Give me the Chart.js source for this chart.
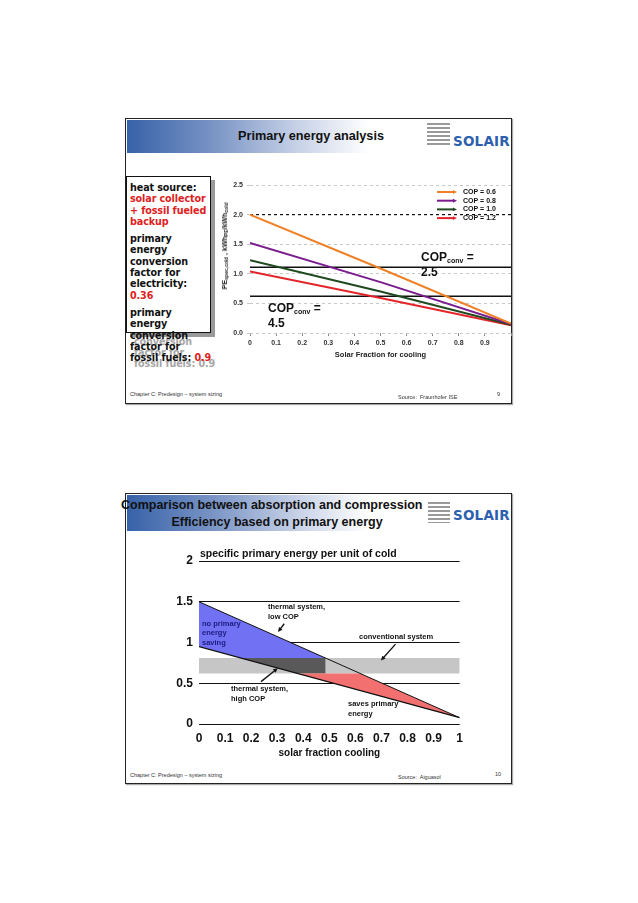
<!DOCTYPE html>
<html lang="en">
<head>
<meta charset="UTF-8">
<title>Primary energy analysis</title>
<script src="https://cdn.jsdelivr.net/npm/chart.js"></script>
<style>
  body { margin: 0; background: #fff; font-family: 'Liberation Sans', Arial, sans-serif; }
  .page { position: relative; width: 638px; height: 903px; overflow: hidden; background: #fff; }
  .abs { position: absolute; white-space: nowrap; }
  .c { transform: translate(-50%, -50%); }
  .l { transform: translateY(-50%); }
  .slide { position: absolute; box-sizing: border-box; border: 1.5px solid #222; box-shadow: 1px 1px 1px #aaa; background: #fff; }
  .head { position: absolute; background: linear-gradient(to right, #3762a9 0%, #7893c4 22%, #c9d3e8 45%, #ffffff 63%); }
  .htitle { font-weight: bold; font-size: 12.7px; color: #111; }
  .stripes { position: absolute; background: repeating-linear-gradient(to bottom, #9a9a9a 0 2px, transparent 2px 4px); }
  .solair { font-family: 'DejaVu Sans', Verdana, sans-serif; font-weight: bold; font-size: 13.5px; color: #2d5fae; letter-spacing: 0.2px; }
  .foot { font-size: 5.5px; color: #333; }
  .heatbox { position: absolute; left: 126px; top: 176px; width: 85px; height: 157px; box-sizing: border-box; border: 1.5px solid #111; background: #fff; box-shadow: 4px 4px 0 #9a9a9a; }
  .heattext { position: absolute; left: 130px; top: 182px; width: 90px; font-family: 'DejaVu Sans', Verdana, sans-serif; font-weight: bold; font-size: 9.6px; line-height: 11.3px; color: #111; letter-spacing: -0.1px; }
  .heattext p { margin: 6px 0 0 0; }
  .heattext p:first-child { margin-top: 0; }
  .red { color: #e0201c; }
  .ghost { left: 134px; top: 188px; color: #a5a5a5; }
  .ghost .red { color: #a5a5a5; }
  .conv { font-weight: bold; font-size: 12px; line-height: 11.5px; color: #111; }
  .conv sub { font-size: 7px; vertical-align: -2px; }
  .ytitle { font-weight: bold; font-size: 7px; color: #222; transform: translate(-50%, -50%) rotate(-90deg); }
  .ytitle sub { font-size: 5px; vertical-align: -1px; }
  .note { font-weight: bold; font-size: 7.5px; line-height: 10px; color: #111; }
  .navy { color: #1c1c80; line-height: 9.4px; }
</style>
</head>
<body>
<div class="page">

  <!-- slide 9 -->
  <div class="slide" style="left:125px; top:118px; width:387px; height:286px;"></div>
  <div class="head" style="left:126.5px; top:119.5px; width:384px; height:33px;"></div>
  <div class="abs c htitle" style="left:311px; top:136px;">Primary energy analysis</div>
  <div class="stripes" style="left:427px; top:123px; width:23px; height:23px;"></div>
  <div class="abs l solair" style="left:453px; top:141px;">SOLAIR</div>

  <div class="abs heattext ghost">
    <p>heat source:<br><span class="red">solar collector<br>+ fossil fueled<br>backup</span></p>
    <p>primary<br>energy<br>conversion<br>factor for<br>electricity:<br><span class="red">0.36</span></p>
    <p>primary<br>energy<br>conversion<br>factor for<br>fossil fuels: <span class="red">0.9</span></p>
  </div>
  <div class="heatbox"></div>
  <div class="abs heattext">
    <p>heat source:<br><span class="red">solar collector<br>+ fossil fueled<br>backup</span></p>
    <p>primary<br>energy<br>conversion<br>factor for<br>electricity:<br><span class="red">0.36</span></p>
    <p>primary<br>energy<br>conversion<br>factor for<br>fossil fuels: <span class="red">0.9</span></p>
  </div>

  <div class="abs" style="left:210px; top:176px; width:305px; height:190px;">
    <canvas id="copChart" width="305" height="190"></canvas>
  </div>
  <div class="abs ytitle" style="left:225px; top:246px;">PE<sub>spec,cold</sub> , kWh<sub>PE</sub>/kWh<sub>cold</sub></div>
  <div class="abs conv" style="left:421px; top:252px;">COP<sub>conv</sub> =<br>2.5</div>
  <div class="abs conv" style="left:268px; top:303px;">COP<sub>conv</sub> =<br>4.5</div>

  <div class="abs l foot" style="left:130px; top:394px;">Chapter C: Predesign – system sizing</div>
  <div class="abs l foot" style="left:398px; top:397px;">Source:&nbsp; Fraunhofer ISE</div>
  <div class="abs l foot" style="left:497px; top:394px;">9</div>

  <!-- slide 10 -->
  <div class="slide" style="left:125px; top:493px; width:387px; height:291px;"></div>
  <div class="head" style="left:126.5px; top:494.5px; width:384px; height:36px;"></div>
  <div class="abs l htitle" style="left:121px; top:505px; font-size:12.5px;">Comparison between absorption and compression</div>
  <div class="abs c htitle" style="left:277px; top:522px; font-size:12.5px;">Efficiency based on primary energy</div>
  <div class="stripes" style="left:428px; top:502px; width:22px; height:21px;"></div>
  <div class="abs l solair" style="left:453px; top:515px;">SOLAIR</div>

  <div class="abs" style="left:155px; top:545px; width:315px; height:222px;">
    <canvas id="pecChart" width="315" height="222"></canvas>
  </div>
  <div class="abs l" style="left:200px; top:553px; font-weight:bold; font-size:10.5px; color:#111;">specific primary energy per unit of cold</div>
  <div class="abs note" style="left:268px; top:602px;">thermal system,<br>low COP</div>
  <div class="abs note navy" style="left:202px; top:619px;">no primary<br>energy<br>saving</div>
  <div class="abs l note" style="left:359px; top:637px;">conventional system</div>
  <div class="abs note" style="left:231px; top:684px;">thermal system,<br>high COP</div>
  <div class="abs note" style="left:348px; top:699px;">saves primary<br>energy</div>

  <div class="abs l foot" style="left:130px; top:775px;">Chapter C: Predesign – system sizing</div>
  <div class="abs l foot" style="left:398px; top:777px;">Source:&nbsp; Aiguasol</div>
  <div class="abs l foot" style="left:495px; top:774px;">10</div>
</div>

<script>
// ---- slide 9: primary energy vs solar fraction ----
const solarFraction = [0, 0.5, 1];
const copLabels = ['COP = 0.6', 'COP = 0.8', 'COP = 1.0', 'COP = 1.2'];
const pe06 = [2.00, 1.09, 0.16];
const pe08 = [1.52, 0.86, 0.15];
const pe10 = [1.23, 0.70, 0.14];
const pe12 = [1.04, 0.59, 0.13];
const convLevels = [1.11, 0.62];   // COPconv = 2.5 and 4.5
const refLevel = 2.0;              // dashed reference line

// ---- slide 10: comparison absorption / compression ----
const sfEnds = [0, 1];
const lowCop = [1.5, 0.077];       // thermal system, low COP
const highCop = [0.95, 0.077];     // thermal system, high COP
const convBand = [0.62, 0.81];     // conventional system range

Chart.defaults.font.family = "'Liberation Sans', Arial, sans-serif";

const pts = (xs, ys) => xs.map((x, i) => ({ x: x, y: ys[i] }));
const flat = (v) => [{ x: 0, y: v }, { x: 1, y: v }];

function drawArrow(ctx, x1, y1, x2, y2, color, width, head) {
  const a = Math.atan2(y2 - y1, x2 - x1);
  ctx.save();
  ctx.strokeStyle = color; ctx.fillStyle = color; ctx.lineWidth = width;
  ctx.beginPath();
  ctx.moveTo(x1, y1);
  ctx.lineTo(x2 - Math.cos(a) * head * 0.8, y2 - Math.sin(a) * head * 0.8);
  ctx.stroke();
  ctx.beginPath();
  ctx.moveTo(x2, y2);
  ctx.lineTo(x2 - head * Math.cos(a - 0.45), y2 - head * Math.sin(a - 0.45));
  ctx.lineTo(x2 - head * Math.cos(a + 0.45), y2 - head * Math.sin(a + 0.45));
  ctx.closePath();
  ctx.fill();
  ctx.restore();
}

// legend with arrows, top right
const arrowLegend = {
  id: 'arrowLegend',
  afterDraw(chart) {
    const { ctx, chartArea } = chart;
    const x0 = chartArea.right - 74, y0 = chartArea.top + 7;
    copLabels.forEach((lab, i) => {
      const yy = y0 + i * 8.7;
      drawArrow(ctx, x0, yy, x0 + 20, yy, chart.data.datasets[i].borderColor, 2, 4.5);
      ctx.save();
      ctx.fillStyle = '#111';
      ctx.font = "bold 7px 'Liberation Sans', Arial";
      ctx.textBaseline = 'middle';
      ctx.fillText(lab, x0 + 26, yy);
      ctx.restore();
    });
  }
};

const lineDs = (label, data, color) => ({
  label: label, data: data, borderColor: color, borderWidth: 2,
  pointRadius: 0, fill: false, tension: 0
});

new Chart(document.getElementById('copChart'), {
  type: 'line',
  data: {
    datasets: [
      lineDs(copLabels[0], pts(solarFraction, pe06), '#ef8026'),
      lineDs(copLabels[1], pts(solarFraction, pe08), '#7a1b8e'),
      lineDs(copLabels[2], pts(solarFraction, pe10), '#1f4a1f'),
      lineDs(copLabels[3], pts(solarFraction, pe12), '#e5242a'),
      { data: flat(convLevels[0]), borderColor: '#111', borderWidth: 1.5, pointRadius: 0 },
      { data: flat(convLevels[1]), borderColor: '#111', borderWidth: 1.5, pointRadius: 0 },
      { data: flat(refLevel), borderColor: '#111', borderWidth: 1.2, borderDash: [3, 3], pointRadius: 0 }
    ]
  },
  options: {
    responsive: false,
    animation: false,
    layout: { padding: { top: 9, right: 4, left: 0, bottom: 0 } },
    plugins: { legend: { display: false }, tooltip: { enabled: false } },
    scales: {
      x: {
        type: 'linear', min: 0, max: 1,
        ticks: {
          stepSize: 0.1, autoSkip: false, maxRotation: 0, padding: 3, color: '#333',
          font: { size: 7, weight: 'bold' },
          callback: (v) => v === 0 ? '0' : (v < 0.95 ? v.toFixed(1) : '')
        },
        grid: { drawOnChartArea: false, tickLength: 3, color: '#888' },
        border: { display: false },
        title: { display: true, text: 'Solar Fraction for cooling', color: '#222',
                 font: { size: 7.5, weight: 'bold' }, padding: { top: 0, bottom: 7 } },
        afterFit: (s) => { s.height = 33; }
      },
      y: {
        min: 0, max: 2.5,
        ticks: { stepSize: 0.5, padding: 4, color: '#333', font: { size: 7, weight: 'bold' },
                 callback: (v) => v.toFixed(1) },
        grid: { color: '#c8c8c8', tickLength: 3 },
        border: { display: false, dash: [3, 3] },
        afterFit: (s) => { s.width = 40; }
      }
    }
  },
  plugins: [arrowLegend]
});

// ---- slide 10 shapes, built from the two lines and the band ----
const crossAt = (ys, v) => (ys[0] - v) / (ys[0] - ys[1]);
const [bandLo, bandHi] = convBand;
const xHighTop = crossAt(highCop, bandHi);
const xLowTop = crossAt(lowCop, bandHi);
const xHighBot = crossAt(highCop, bandLo);
const xLowBot = crossAt(lowCop, bandLo);

const bandShape = [{ x: 0, y: bandLo }, { x: 1, y: bandLo }, { x: 1, y: bandHi }, { x: 0, y: bandHi }];
const noSavingShape = [{ x: 0, y: lowCop[0] }, { x: xLowTop, y: bandHi }, { x: xHighTop, y: bandHi }, { x: 0, y: highCop[0] }];
const overlapShape = [{ x: xHighTop, y: bandHi }, { x: xLowTop, y: bandHi }, { x: xLowTop, y: bandLo }, { x: xHighBot, y: bandLo }];
const savingShape = [{ x: xHighBot, y: bandLo }, { x: xLowBot, y: bandLo }, { x: 1, y: lowCop[1] }, { x: 1, y: highCop[1] }];

const arrows2 = [
  { from: [0.327, 1.23], to: [0.303, 1.13] },
  { from: [0.754, 0.98], to: [0.698, 0.78] },
  { from: [0.238, 0.52], to: [0.302, 0.685] }
];

const arrowPlugin = {
  id: 'noteArrows',
  afterDatasetsDraw(chart) {
    const { ctx, scales: { x, y } } = chart;
    arrows2.forEach((a) => {
      drawArrow(ctx, x.getPixelForValue(a.from[0]), y.getPixelForValue(a.from[1]),
                x.getPixelForValue(a.to[0]), y.getPixelForValue(a.to[1]), '#111', 1.3, 5);
    });
  }
};

const shapeDs = (data, color, order) => ({
  data: data, backgroundColor: color, borderWidth: 0, borderColor: color,
  pointRadius: 0, fill: 'shape', order: order, tension: 0
});

new Chart(document.getElementById('pecChart'), {
  type: 'line',
  data: {
    datasets: [
      shapeDs(bandShape, '#c6c6c6', 9),
      shapeDs(noSavingShape, '#7171f3', 8),
      shapeDs(overlapShape, '#595959', 7),
      shapeDs(savingShape, '#f27070', 6),
      { data: pts(sfEnds, lowCop), borderColor: '#111', borderWidth: 1, pointRadius: 0, order: 1 },
      { data: pts(sfEnds, highCop), borderColor: '#111', borderWidth: 1.3, pointRadius: 0, order: 1 }
    ]
  },
  options: {
    responsive: false,
    animation: false,
    layout: { padding: { top: 16, right: 8, left: 0, bottom: 0 } },
    plugins: { legend: { display: false }, tooltip: { enabled: false } },
    scales: {
      x: {
        type: 'linear', min: 0, max: 1,
        ticks: {
          stepSize: 0.1, autoSkip: false, maxRotation: 0, padding: 7, color: '#111',
          font: { size: 12, weight: 'bold' },
          callback: (v) => v === 0 ? '0' : (v === 1 ? '1' : v.toFixed(1))
        },
        grid: { display: false, drawTicks: false },
        border: { display: false },
        title: { display: true, text: 'solar fraction cooling', color: '#111',
                 font: { size: 10, weight: 'bold' }, padding: { top: 0, bottom: 8 } },
        afterFit: (s) => { s.height = 43; }
      },
      y: {
        min: 0, max: 2,
        ticks: { stepSize: 0.5, padding: 6, color: '#111', font: { size: 12, weight: 'bold' },
                 callback: (v) => String(v) },
        grid: { color: '#111', drawTicks: false },
        border: { display: false },
        afterFit: (s) => { s.width = 44; }
      }
    }
  },
  plugins: [arrowPlugin]
});
</script>
</body>
</html>
